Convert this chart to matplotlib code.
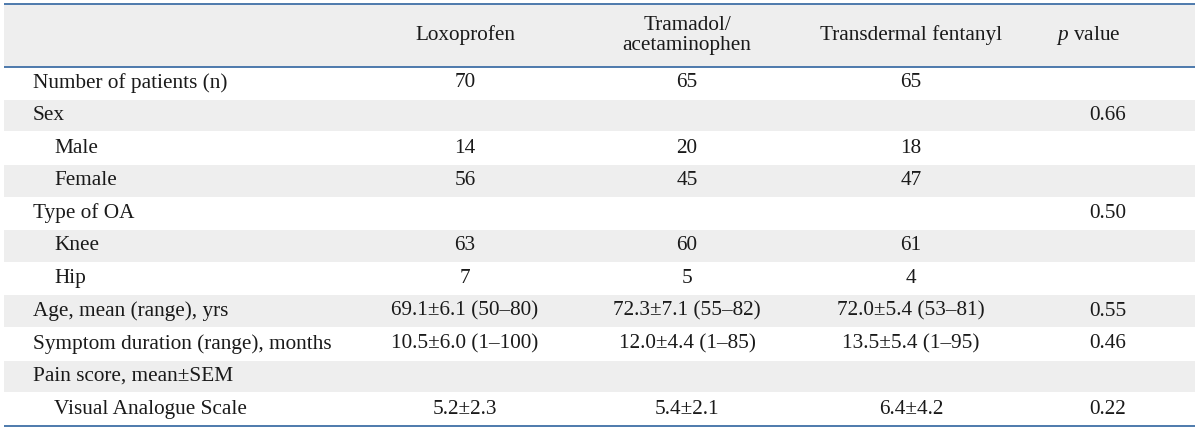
"""Baseline characteristics table rendered with matplotlib."""

import matplotlib
matplotlib.use("Agg")
import matplotlib.pyplot as plt
from matplotlib.patches import Rectangle


plt.rcParams.update(
    {
        "font.family": ["Liberation Serif", "DejaVu Serif"],
        "mathtext.fontset": "custom",
        "mathtext.rm": "Liberation Serif",
        "mathtext.it": "Liberation Serif:italic",
    }
)


# ---------------------------------------------------------------------
# Data
# ---------------------------------------------------------------------
headers = ["Loxoprofen", "Tramadol/\nacetaminophen", "Transdermal fentanyl", "$p$ value"]

row_labels = [
    "Number of patients (n)",
    "Sex",
    "Male",
    "Female",
    "Type of OA",
    "Knee",
    "Hip",
    "Age, mean (range), yrs",
    "Symptom duration (range), months",
    "Pain score, mean±SEM",
    "Visual Analogue Scale",
]

indented = [False, False, True, True, False, True, True, False, False, False, True]

loxoprofen = ["70", "", "14", "56", "", "63", "7",
              "69.1±6.1 (50–80)", "10.5±6.0 (1–100)", "", "5.2±2.3"]
tramadol = ["65", "", "20", "45", "", "60", "5",
            "72.3±7.1 (55–82)", "12.0±4.4 (1–85)", "", "5.4±2.1"]
fentanyl = ["65", "", "18", "47", "", "61", "4",
            "72.0±5.4 (53–81)", "13.5±5.4 (1–95)", "", "6.4±4.2"]
p_values = ["", "0.66", "", "", "0.50", "", "", "0.55", "0.46", "", "0.22"]


# ---------------------------------------------------------------------
# Layout (pixel coordinates)
# ---------------------------------------------------------------------
W, H = 1200, 429
left, right = 4, 1195
top, header_bottom, bottom = 4, 66.5, 425.5
row_h = (bottom - header_bottom) / len(row_labels)

col_x = [465, 687, 911]
p_header_x = 1088
p_x = 1108
label_x = 33
indent_x = 54

gray = "#eeeeee"
line_color = "#3f6fa6"
text_color = "#1a1a1a"
fs = 15.3

fig = plt.figure(figsize=(W / 100, H / 100), dpi=100)
ax = fig.add_axes([0, 0, 1, 1])
ax.set_xlim(0, W)
ax.set_ylim(H, 0)
ax.axis("off")

# header band
ax.add_patch(Rectangle((left, top), right - left, header_bottom - top,
                       facecolor=gray, edgecolor="none"))

header_y = (top + header_bottom) / 2
for x, label in zip(col_x, headers[:3]):
    ax.text(x, header_y, label, ha="center", va="center", fontsize=fs,
            color=text_color, linespacing=1.05)
ax.text(p_header_x, header_y, headers[3], ha="center", va="center",
        fontsize=fs, color=text_color)

# body rows
for i, label in enumerate(row_labels):
    y0 = header_bottom + i * row_h
    yc = y0 + row_h / 2
    if i % 2 == 1:
        ax.add_patch(Rectangle((left, y0 + 0.5), right - left, row_h - 1,
                               facecolor=gray, edgecolor="none"))
    ax.text(indent_x if indented[i] else label_x, yc, label,
            ha="left", va="center", fontsize=fs, color=text_color)
    for x, col in zip(col_x, (loxoprofen, tramadol, fentanyl)):
        if col[i]:
            ax.text(x, yc, col[i], ha="center", va="center",
                    fontsize=fs, color=text_color)
    if p_values[i]:
        ax.text(p_x, yc, p_values[i], ha="center", va="center",
                fontsize=fs, color=text_color)

# rules
for y in (top, header_bottom, bottom):
    ax.plot([left, right], [y, y], color=line_color, linewidth=1.3,
            solid_capstyle="butt")

fig.savefig("out.png", dpi=100, facecolor="white")
plt.close(fig)
